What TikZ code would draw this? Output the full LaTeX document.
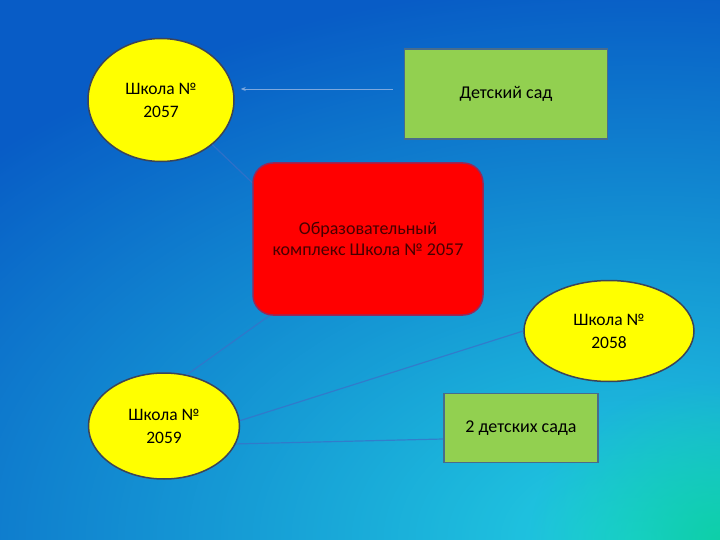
\documentclass[tikz,border=0pt]{standalone}
\usepackage{fontspec}
\setmainfont{Carlito}
\usetikzlibrary{shapes.geometric,arrows.meta,fadings}

\definecolor{bgdark}{RGB}{8,92,198}
\definecolor{bgcyan}{RGB}{34,208,226}
\definecolor{bgteal}{RGB}{14,208,168}
\definecolor{schoolfill}{RGB}{255,255,0}
\definecolor{schooledge}{RGB}{60,68,88}
\definecolor{kgfill}{RGB}{146,208,80}
\definecolor{kgedge}{RGB}{72,108,140}
\definecolor{hubfill}{RGB}{255,0,0}
\definecolor{hubedge}{RGB}{150,40,90}
\definecolor{hubtext}{RGB}{70,0,0}
\definecolor{linkcol}{RGB}{58,112,200}
\definecolor{arrowcol}{RGB}{125,168,222}

\tikzfading[name=glow, inner color=transparent!0, outer color=transparent!100]

\tikzset{
  school/.style={ellipse, draw=schooledge, line width=1.5pt, fill=schoolfill,
    inner sep=0pt, align=center, font=\fontsize{17.5}{23}\selectfont},
  kindergarten/.style={rectangle, draw=kgedge, line width=1.5pt, fill=kgfill,
    inner sep=0pt, align=center, font=\fontsize{18}{22}\selectfont},
  hub/.style={rectangle, rounded corners=20pt, draw=hubedge, line width=1.5pt,
    fill=hubfill, inner sep=0pt, align=center, text=hubtext,
    font=\fontsize{18}{21}\selectfont},
  link/.style={draw=linkcol, line width=1.2pt, opacity=0.75},
  pointer/.style={draw=arrowcol, line width=0.9pt, -{Stealth[length=5pt,width=4pt]}},
}

\begin{document}
\begin{tikzpicture}[x=1pt,y=-1pt]
    \useasboundingbox (0,0) rectangle (720,540);

    % background
    \begin{scope}
        \clip (0,0) rectangle (720,540);
        \fill[bgdark] (0,0) rectangle (720,540);
        \fill[bgcyan, path fading=glow] (640,540) ellipse [x radius=900pt, y radius=560pt];
        \fill[bgteal, path fading=glow] (720,540) ellipse [x radius=190pt, y radius=160pt];
    \end{scope}

    % schools and kindergartens
    \node[school, minimum width=146pt, minimum height=123pt] (s2057) at (161,100) {Школа №\\2057};
    \node[school, minimum width=170pt, minimum height=101pt] (s2058) at (609,331) {Школа №\\2058};
    \node[school, minimum width=151pt, minimum height=106pt] (s2059) at (164,426) {Школа №\\2059};

    \node[kindergarten, minimum width=203pt, minimum height=90pt] (kg) at (506,94) {Детский сад};
    \node[kindergarten, minimum width=154pt, minimum height=69pt] (kgtwo) at (521,428) {2 детских сада};

    % the complex, lines under it first
    \coordinate (hubin) at (263,193);
    \coordinate (hubout) at (280,308);
    \draw[link] (s2057.-41) -- (hubin);
    \draw[link] (hubout) -- (s2059.66);

    \node[hub, minimum width=230pt, minimum height=152pt] (hub) at (368,239)
        {Образовательный\\комплекс Школа № 2057};

    % connectors
    \draw[pointer, shorten <=11pt, shorten >=6pt] ([yshift=5pt]kg.west) -- ([yshift=11pt]s2057.east);
    \draw[link] (s2059.4) -- (s2058.west);
    \draw[link] (s2059.-14) -- ([yshift=-11pt]kgtwo.west);

\end{tikzpicture}
\end{document}
